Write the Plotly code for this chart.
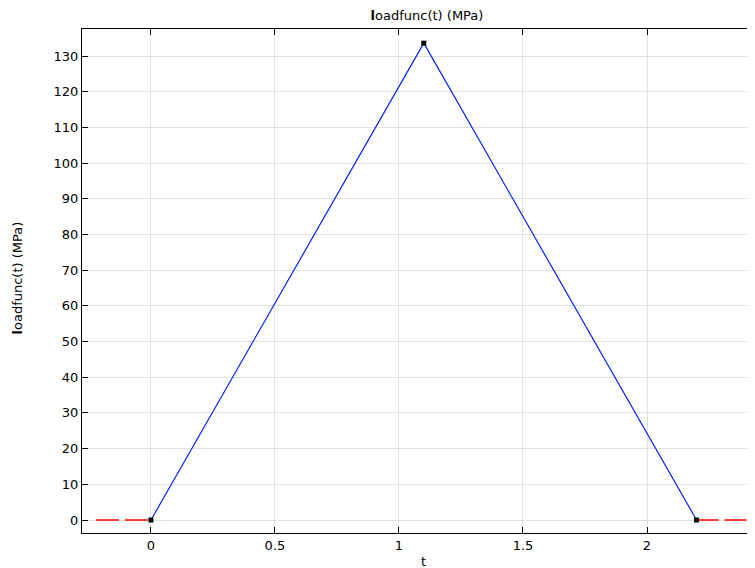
import plotly.graph_objects as go

t_main = [0, 1.1, 2.2]
load_main = [0, 133.6, 0]
t_left = [-0.222, 0]
load_left = [0, 0]
t_right = [2.2, 2.41]
load_right = [0, 0]
x_ticks = [0, 0.5, 1, 1.5, 2]
x_labels = ["0", "0.5", "1", "1.5", "2"]
y_ticks = list(range(0, 140, 10))

font = dict(family="DejaVu Sans", size=13, color="black")

fig = go.Figure()
fig.add_trace(go.Scatter(x=t_left, y=load_left, mode="lines",
                         line=dict(color="#ff0000", width=1.5, dash="23px,6px"), showlegend=False))
fig.add_trace(go.Scatter(x=t_right, y=load_right, mode="lines",
                         line=dict(color="#ff0000", width=1.5, dash="22px,6px"), showlegend=False))
fig.add_trace(go.Scatter(x=t_main, y=load_main, mode="lines+markers",
                         line=dict(color="#0022ff", width=1.2),
                         marker=dict(symbol="square", size=5, color="black"), showlegend=False))

axis_common = dict(showline=True, linecolor="black", linewidth=1, mirror="ticks",
                   ticks="inside", ticklen=6, tickcolor="black",
                   showgrid=True, gridcolor="#e1e1e1", gridwidth=1, zeroline=False,
                   tickfont=font)
fig.update_xaxes(range=[-0.278, 2.4677], tickvals=x_ticks, ticktext=x_labels, **axis_common)
fig.update_yaxes(range=[-3.64, 137.57], tickvals=y_ticks, **axis_common)
fig.update_layout(
    width=755, height=568,
    margin=dict(l=74, r=0, t=21, b=43, autoexpand=False),
    plot_bgcolor="white", paper_bgcolor="white",
    title=dict(text="<b>l</b>oadfunc(t) (MPa)", x=0.555, xanchor="center",
               y=1 - 7 / 568, yanchor="middle", font=font),
    annotations=[
        dict(text="t", xref="paper", yref="paper", x=0.502, y=-0.0575,
             xanchor="center", yanchor="middle", showarrow=False, font=font),
        dict(text="<b>l</b>oadfunc(t) (MPa)", xref="paper", yref="paper", x=-0.0947, y=0.506,
             xanchor="center", yanchor="middle", textangle=-90, showarrow=False, font=font),
    ],
)
fig.write_html("out.html")
